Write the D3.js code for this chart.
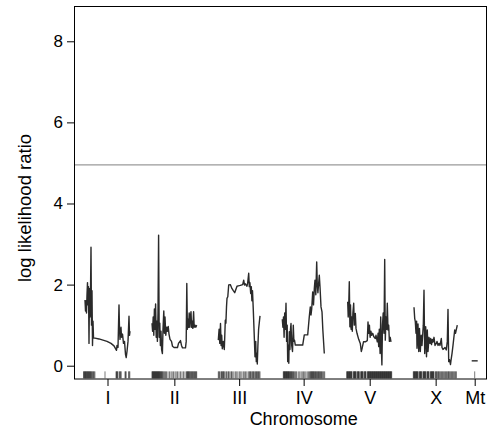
<!DOCTYPE html>
<html>
<head>
<meta charset="utf-8">
<script src="https://cdn.jsdelivr.net/npm/d3@7"></script>
<style>
  body { margin: 0; background: #fff; }
  svg { display: block; font-family: "Liberation Sans", Arial, sans-serif; }
</style>
</head>
<body>
<script>
// chromosome layout (cM on the genome axis)
var chrNames = ["I", "II", "III", "IV", "V", "X", "Mt"];
var chrStart = [11, 78, 144.3, 208.3, 273.7, 340, 397.7];
var chrLength = [45, 44.7, 41.7, 42.7, 44, 43.3, 6];

var threshold = 4.95;
var yTicks = [0, 2, 4, 6, 8];

// LOD profiles: [position within chromosome (cM), LOD]
var lodI = [[0,1.62],[0.5,1.35],[1,1.6],[1.5,1.3],[2,1.75],[2.5,2.05],[3,1.5],[3.5,1.95],[4,0.55],[4.5,1.9],
  [5,1.2],[5.5,1.8],[6,2.92],[6.5,1.0],[7,1.85],[7.5,0.5],[8,1.1],[8.5,0.68],[10,0.68],[14,0.66],[18,0.63],
  [22,0.6],[26,0.55],[29,0.49],[31.5,0.38],[32,0.5],[33,0.45],[34,1.5],[34.5,0.9],[35,0.65],[36,0.95],
  [36.5,0.7],[37.5,0.78],[38.5,0.55],[39.5,0.6],[40.5,0.28],[41.2,0.2],[42,0.35],[43,0.6],[44,1.22],[44.5,0.75],[45,0.85]];
var lodII = [[0,1.05],[0.6,0.85],[1.2,1.2],[1.8,0.75],[2.4,1.4],[3,0.9],[3.6,1.52],[4.2,0.7],[4.8,1.1],[5.4,0.6],
  [6,1.3],[6.6,3.22],[7.2,0.7],[7.8,1.05],[8.4,0.5],[9,0.85],[9.6,0.4],[10.4,0.3],[11,0.9],[11.8,1.35],[12.4,0.8],
  [13,1.2],[13.8,0.75],[14.6,0.95],[15.4,0.85],[16.2,0.97],[17,0.78],[18,0.65],[19.5,0.6],[20.5,0.48],[22,0.45],
  [25.5,0.45],[26.5,0.55],[28.5,0.62],[29.5,0.5],[30.5,0.44],[33.5,0.44],[34.2,0.6],[34.8,2.03],[35.4,0.9],
  [36,1.15],[36.6,0.95],[37.2,1.3],[37.8,0.95],[38.4,1.2],[39,1.33],[39.6,0.95],[40.2,1.1],[40.8,0.92],
  [41.6,1.33],[42.2,0.95],[43,1.0],[43.8,0.95],[44.7,1.0]];
var lodIII = [[0,0.63],[0.8,0.9],[1.5,0.55],[2.2,1.04],[2.8,0.5],[3.4,0.75],[4,0.42],[5,0.6],[6,0.4],[6.5,0.75],
  [7,1.12],[7.6,1.05],[8.2,1.45],[8.7,1.66],[9.5,1.7],[10.4,1.99],[12,2.0],[13.7,1.9],[15,1.85],[16.4,1.8],
  [18.7,1.96],[20,1.97],[22,1.98],[24.4,2.0],[25.4,2.11],[26.2,1.99],[27,2.02],[28.7,1.96],[29.4,2.05],
  [30.4,2.28],[31,1.95],[31.6,2.05],[32.4,1.78],[33,1.95],[33.6,1.6],[34.2,1.85],[35,1.37],[36,0.71],
  [36.7,0.22],[37.4,0.6],[38,0.1],[38.6,0.3],[39,0.04],[39.6,0.5],[40.3,0.9],[41.7,1.23]];
var lodIV = [[0,1.15],[0.6,0.95],[1.2,1.2],[1.8,0.7],[2.4,1.3],[3,0.9],[3.7,1.54],[4.3,0.6],[4.9,1.0],[5.4,0.1],
  [6,0.5],[6.5,0.06],[7,0.84],[7.6,0.4],[8.2,0.9],[8.7,1.04],[9.4,0.5],[10.2,0.35],[11,1.0],[11.6,0.6],
  [12.2,0.63],[13,0.51],[20.4,0.51],[22,0.76],[25.4,0.76],[27,1.21],[28,1.45],[28.7,1.25],[29.4,1.4],
  [30.4,1.82],[31.2,1.5],[32,1.9],[32.7,2.11],[33.5,1.75],[34.4,2.56],[35,1.99],[35.6,1.8],[37,2.23],
  [37.7,1.95],[38.7,1.45],[39.7,1.33],[40.5,0.9],[42,0.3]];
var lodV = [[0,1.58],[0.5,1.2],[1,1.45],[1.6,2.07],[2.2,0.96],[2.8,1.5],[3.4,0.9],[4,1.2],[4.6,0.85],[5.2,1.3],
  [6,1.54],[6.6,1.0],[7.6,1.29],[8.3,0.92],[9.3,0.8],[11,0.65],[12.6,0.55],[13.6,0.35],[14.6,0.45],[15.8,0.59],
  [17.6,0.59],[19.6,0.62],[20.3,1.08],[21,0.8],[21.7,1.0],[22.4,0.7],[23.2,0.85],[24,0.75],[25,0.8],[26,0.72],
  [27.6,0.67],[28.3,0.75],[29.6,0.59],[30.4,0.8],[31,0.47],[31.6,0.9],[32.4,0.3],[33,1.2],[33.6,0.5],
  [34.2,0.02],[34.8,1.0],[35.5,1.3],[36.3,0.8],[37,2.62],[37.6,0.63],[38.3,1.2],[39,0.9],[39.6,1.54],
  [40.3,0.88],[41,1.0],[41.7,0.6],[42.5,0.7],[43.3,0.59]];
var lodX = [[0,1.44],[0.7,1.17],[1.3,1.09],[2,0.8],[2.6,1.1],[3,0.43],[4,1.03],[4.7,0.35],[5.5,0.92],[6.3,0.35],
  [7.2,0.75],[8,0.5],[9.3,1.0],[10,1.86],[10.7,0.3],[11.7,0.96],[12.5,0.22],[13.3,0.88],[14,0.35],[15,0.7],
  [16,0.55],[16.7,0.67],[17.5,0.52],[18.3,0.65],[19,0.58],[20,0.7],[21,0.5],[22.3,0.55],[23,0.6],[24,0.5],
  [25,0.55],[26,0.5],[27.3,0.67],[28,0.45],[29,0.4],[31,0.45],[32.3,0.39],[33.3,0.6],[34,1.39],[34.7,0.1],
  [35.5,0.15],[36.5,0.03],[37,0.13],[38,0.3],[39,0.5],[40.7,0.88],[41.5,0.8],[43.3,1.0]];
var lodMt = [[0,0.12],[6,0.12]];

// marker positions within each chromosome (cM)
var markersI = [-1.5,-1,-0.5,0,0.4,0.8,1.3,1.8,2.2,2.7,3.1,3.6,4,4.5,5,5.5,6,6.6,7.2,7.8,8.5,9.2,9.9,20,
  31,31.5,32,32.4,33,34.5,35,35.6,36.2,40,40.5,41.2,43.6,44.2,44.8];
var markersII = [0,0.4,0.8,1.2,1.6,2,2.4,2.8,3.2,3.6,4,4.4,4.8,5.2,5.6,6,6.4,6.8,7.2,7.6,8,8.5,9,9.5,10,10.6,
  11.2,12,12.8,13.6,14.5,16,17.5,19,20.2,21.5,23,24.2,25.5,27,28.5,30,31.5,33,34.5,35,35.5,36,36.5,37,37.6,
  38.2,38.8,39.4,40,40.6,41.2,41.8,42.4,43,43.6,44.2,44.7];
var markersIII = [0,0.6,1.2,2.5,3.2,3.8,4.4,5,5.5,6,7.5,8.2,9.5,10.2,11,12.5,13.2,14,15.5,17,18,19.5,21,22,
  23.5,25,26,27.2,28.5,30,31,31.6,32.2,33,34,34.6,35.2,36,37,37.6,38.2,39,39.6,40.2,41,41.7];
var markersIV = [1,1.4,1.8,2.2,2.6,3,3.4,3.8,4.2,4.6,5,5.4,5.8,6.2,6.6,7,7.5,8,8.5,9,9.5,10,10.6,11.2,12,12.8,
  13.6,14.4,16,17.4,18.8,20,21.2,22.4,23.6,25,26.2,27.2,28,28.5,29,29.5,30,30.5,31,31.5,32,32.6,33.2,33.8,
  34.4,35,35.6,36.2,36.8,37.4,38,38.6,39.2,40,40.8,41.6,42.4];
var markersV = [-1,-0.6,-0.2,0.2,0.6,1,1.4,1.8,2.2,2.6,3,3.4,3.8,4.2,5.5,6,6.4,6.8,7.2,7.6,8,8.4,9.6,10,10.4,
  10.8,11.2,11.6,13,13.4,13.8,14.2,14.6,15,15.4,16.6,17,17.4,17.8,18.2,19.5,20,20.4,20.8,21.2,21.6,22,22.4,
  22.8,23.2,23.6,24,24.4,24.8,25.2,25.6,26,26.4,26.8,27.2,27.6,28,28.4,28.8,29.2,29.6,30,30.4,30.8,31.2,
  31.6,32,32.4,32.8,33.2,33.6,34,34.4,34.8,35.2,35.6,36,36.4,36.8,37.2,37.6,38,38.4,38.8,39.2,39.6,40,
  40.4,40.8,41.2,41.6,42,42.4,42.8,43.2,43.6,44];
var markersX = [-0.7,-0.3,0.1,0.5,0.9,1.3,1.7,2.1,2.5,2.9,3.3,3.7,4.1,5.3,5.7,6.1,6.5,6.9,7.3,7.7,9,9.4,9.8,
  10.2,10.6,11,11.4,11.8,13,13.4,13.8,14.2,14.6,15,16.4,16.8,17.2,17.6,18,18.4,18.8,19.2,19.6,20,21.5,22,
  22.6,23.2,24,24.6,25.2,26,26.8,27.6,28.4,29.2,30,30.8,31.6,32.4,33.2,34,34.6,35.2,36,36.8,37.6,38.4,
  39.2,40,40.8,41.6,42.4];
var markersMt = [3];

var lodData = [lodI, lodII, lodIII, lodIV, lodV, lodX, lodMt];
var markerData = [markersI, markersII, markersIII, markersIV, markersV, markersX, markersMt];

var width = 490, height = 432;
var margin = {top: 6, right: 3, bottom: 52.5, left: 74};

var svg = d3.select("body").append("svg")
    .attr("width", width)
    .attr("height", height);

var x = d3.scaleLinear()
    .domain([0, 413])
    .range([margin.left, width - margin.right]);

var y = d3.scaleLinear()
    .domain([-0.34, 8.87])
    .range([height - margin.bottom, margin.top]);

// threshold line
svg.append("line")
    .attr("x1", x.range()[0]).attr("x2", x.range()[1])
    .attr("y1", y(threshold)).attr("y2", y(threshold))
    .attr("stroke", "#9a9a9a")
    .attr("stroke-width", 1.2);

// marker rug
var rug = svg.append("g").attr("class", "rug");
markerData.forEach((ms, i) => {
    rug.selectAll(null)
        .data(ms)
        .join("line")
            .attr("x1", d => x(chrStart[i] + d))
            .attr("x2", d => x(chrStart[i] + d))
            .attr("y1", y(-0.14))
            .attr("y2", y(-0.31))
            .attr("stroke", "#111")
            .attr("stroke-opacity", 0.8)
            .attr("stroke-width", 0.7);
});

// LOD curves
var line = d3.line()
    .x(d => x(d.pos))
    .y(d => y(d.lod));

lodData.forEach((pts, i) => {
    let data = pts.map(p => ({pos: chrStart[i] + p[0], lod: p[1]}));
    svg.append("path")
        .datum(data)
        .attr("d", line)
        .attr("fill", "none")
        .attr("stroke", "#2a2a2a")
        .attr("stroke-width", 1.4)
        .attr("stroke-linejoin", "round");
});

// box
svg.append("rect")
    .attr("x", x.range()[0] + 0.5)
    .attr("y", y.range()[1] + 0.5)
    .attr("width", x.range()[1] - x.range()[0] - 1)
    .attr("height", y.range()[0] - y.range()[1] - 1)
    .attr("fill", "none")
    .attr("stroke", "#000")
    .attr("stroke-width", 1);

// y axis
var yAxis = d3.axisLeft(y)
    .tickValues(yTicks)
    .tickSize(7)
    .tickPadding(4)
    .tickFormat(d3.format("d"));
var gy = svg.append("g")
    .attr("transform", "translate(" + margin.left + ",0)")
    .call(yAxis);
gy.select(".domain").remove();
gy.selectAll("text").attr("font-size", 17).attr("font-family", "Liberation Sans, Arial, sans-serif").attr("fill", "#000");

// x axis at chromosome midpoints
var chrMid = chrNames.map((c, i) => chrStart[i] + chrLength[i] / 2);
var xAxis = d3.axisBottom(x)
    .tickValues(chrMid)
    .tickSize(7)
    .tickPadding(5)
    .tickFormat((d, i) => chrNames[i]);
var gx = svg.append("g")
    .attr("transform", "translate(0," + (height - margin.bottom - 0.5) + ")")
    .call(xAxis);
gx.select(".domain").remove();
gx.selectAll("text").attr("font-size", 18).attr("font-family", "Liberation Sans, Arial, sans-serif").attr("fill", "#000");

// titles
svg.append("text")
    .attr("x", x(chrMid[3]))
    .attr("y", 425)
    .attr("text-anchor", "middle")
    .attr("font-size", 18)
    .text("Chromosome");

svg.append("text")
    .attr("transform", "translate(31," + 208 + ") rotate(-90)")
    .attr("text-anchor", "middle")
    .attr("font-size", 18.5)
    .text("log likelihood ratio");
</script>
</body>
</html>
